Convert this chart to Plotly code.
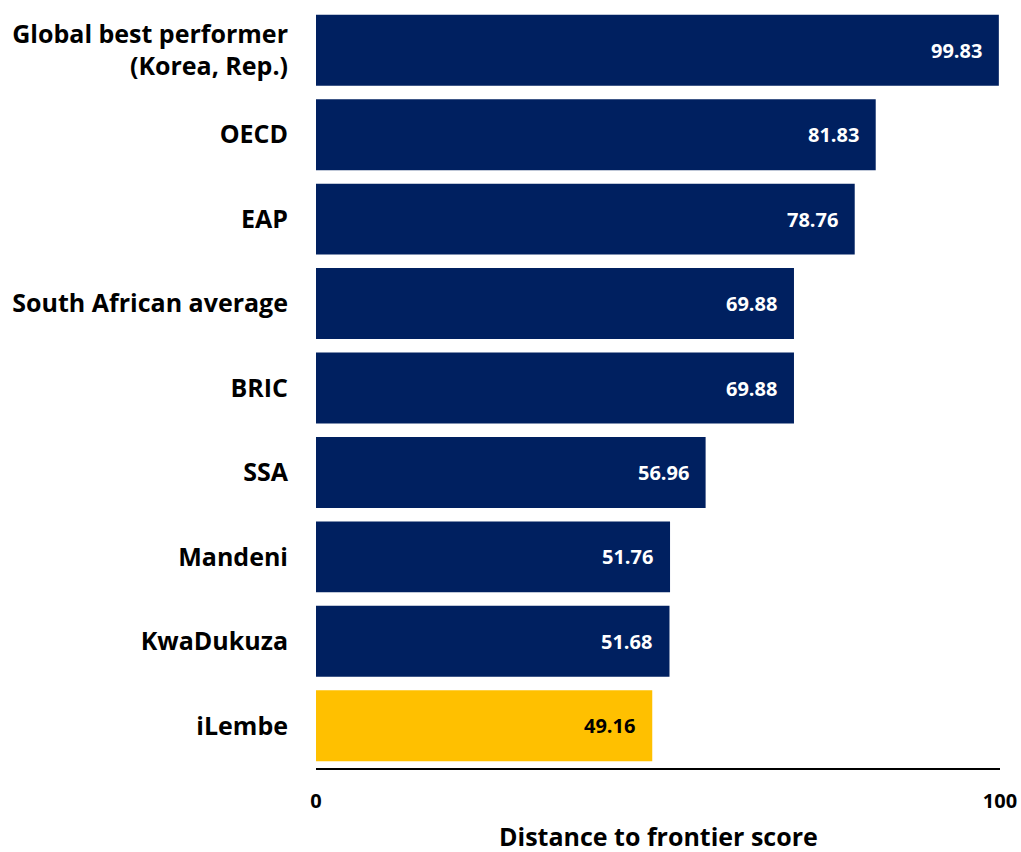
import plotly.graph_objects as go

categories = ["Global best performer<br>(Korea, Rep.)", "OECD", "EAP", "South African average",
              "BRIC", "SSA", "Mandeni", "KwaDukuza", "iLembe"]
scores = [99.83, 81.83, 78.76, 69.88, 69.88, 56.96, 51.76, 51.68, 49.16]
highlight = "iLembe"

NAVY = "#002060"
GOLD = "#FFC000"
FONT = "Open Sans"

colors = [GOLD if c == highlight else NAVY for c in categories]
label_colors = ["#000000" if c == highlight else "#FFFFFF" for c in categories]

fig = go.Figure(go.Bar(
    x=scores, y=categories, orientation="h",
    marker=dict(color=colors, line=dict(width=0)),
    hoverinfo="skip",
))

# value labels just inside the end of each bar
for c, v, lc in zip(categories, scores, label_colors):
    fig.add_annotation(x=v, y=c, text=f"{v:.2f}", showarrow=False,
                       xanchor="right", xshift=-15,
                       font=dict(family=FONT, size=20, color=lc, weight="bold"))

# x-axis title
fig.add_annotation(x=0.5, y=0, xref="paper", yref="paper", yanchor="middle",
                   yshift=-68, showarrow=False, text="Distance to frontier score",
                   font=dict(family=FONT, size=25, color="#000000", weight="bold"))

fig.update_layout(
    width=1021, height=852,
    margin=dict(l=316, r=21, t=8, b=84),
    paper_bgcolor="white", plot_bgcolor="white",
    bargap=0.16, showlegend=False,
    font=dict(family=FONT, color="#000000"),
)
fig.update_yaxes(autorange="reversed", showgrid=False, showline=False, ticks="",
                 automargin=False, ticklabelstandoff=27,
                 tickfont=dict(family=FONT, size=25, color="#000000", weight="bold"))
fig.update_xaxes(range=[0, 100], tickvals=[0, 100], showgrid=False, zeroline=False,
                 showline=True, linecolor="#000000", linewidth=2, ticks="",
                 automargin=False, ticklabelstandoff=14,
                 tickfont=dict(family=FONT, size=20, color="#000000", weight="bold"))

fig.write_html("out.html")
